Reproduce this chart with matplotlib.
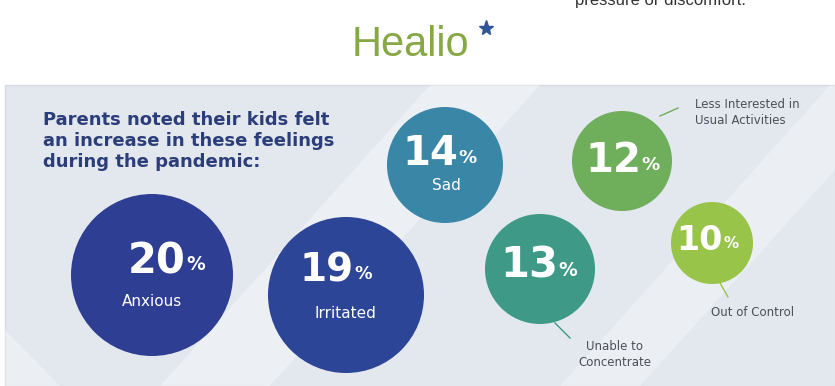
import numpy as np
import matplotlib.pyplot as plt
from matplotlib.patches import Circle, Rectangle, Polygon

# Daten
percents = [20, 19, 14, 13, 12, 10]
feelings = ['Anxious', 'Irritated', 'Sad', 'Unable to\nConcentrate',
            'Less Interested in\nUsual Activities', 'Out of Control']
title = 'Parents noted their kids felt\nan increase in these feelings\nduring the pandemic:'

# Layout (Pixel, y nach unten)
centers = [(152, 275), (346, 295), (445, 165), (540, 269), (622, 161), (712, 243)]
radii = [81, 78, 58, 55, 50, 41]
colors = ['#2e3f93', '#2c4596', '#3a86a6', '#3e9a87', '#6fae5a', '#98c44a']
num_pos = [(186, 261), (354, 270), (458, 154), (558, 266), (641, 161), (723, 240)]
num_size = [30, 28, 29, 30, 29, 24]
inside = [True, True, True, False, False, False]
inside_pos = [(152, 302), (345, 313), (446, 185)]
outside_pos = {3: (615, 355, 'center'), 4: (695, 113, 'left'), 5: (753, 313, 'center')}
callouts = {3: ((555, 323), (570, 338)), 4: ((660, 116), (678, 108)), 5: ((720, 283), (728, 297))}

fig = plt.figure(figsize=(8.35, 3.86), dpi=100)
ax = fig.add_axes([0, 0, 1, 1])
ax.set_xlim(0, 835)
ax.set_ylim(386, 0)
ax.axis('off')

# Kopfbereich
ax.text(660, 1, 'pressure or discomfort.', fontsize=12, color='#333333',
        ha='center', va='center', family='Liberation Sans')
ax.text(410, 45, 'Healio', fontsize=30, color='#86a845', ha='center', va='center',
        family='Liberation Sans')
ax.plot([486], [28], marker='*', markersize=11, color='#2f5597')

# Hintergrund-Panel
ax.add_patch(Rectangle((5, 85), 830, 301, facecolor='#e3e7ee', edgecolor='#d5d9e0', lw=1))
ax.add_patch(Polygon([(160, 386), (270, 386), (540, 85), (430, 85)], closed=True,
                     facecolor='white', alpha=0.35, lw=0))
ax.add_patch(Polygon([(560, 386), (640, 386), (835, 170), (835, 85), (830, 85)], closed=True,
                     facecolor='white', alpha=0.3, lw=0))
ax.add_patch(Polygon([(5, 300), (5, 386), (60, 386), (5, 330)], closed=True,
                     facecolor='white', alpha=0.3, lw=0))

ax.text(43, 141, title, fontsize=13, fontweight='bold', color='#2c3e7a',
        ha='left', va='center', linespacing=1.2, family='DejaVu Sans')

for i in range(len(percents)):
    cx, cy = centers[i]
    ax.add_patch(Circle((cx, cy), radii[i], facecolor=colors[i], edgecolor='none'))
    nx, ny = num_pos[i]
    ax.text(nx, ny, str(percents[i]), fontsize=num_size[i], fontweight='bold', color='white',
            ha='right', va='center', family='DejaVu Sans')
    ax.text(nx, ny + 4, '%', fontsize=num_size[i] * 0.45, fontweight='bold', color='white',
            ha='left', va='center', family='DejaVu Sans')
    if inside[i]:
        lx, ly = inside_pos[i]
        ax.text(lx, ly, feelings[i], fontsize=11, color='white', ha='center', va='center',
                family='DejaVu Sans')
    else:
        lx, ly, align = outside_pos[i]
        ax.text(lx, ly, feelings[i], fontsize=8.5, color='#4a4f5a', ha=align, va='center',
                linespacing=1.3, family='DejaVu Sans')
        (x0, y0), (x1, y1) = callouts[i]
        ax.plot([x0, x1], [y0, y1], color=colors[i], lw=1)

fig.savefig('out.png', dpi=100)
